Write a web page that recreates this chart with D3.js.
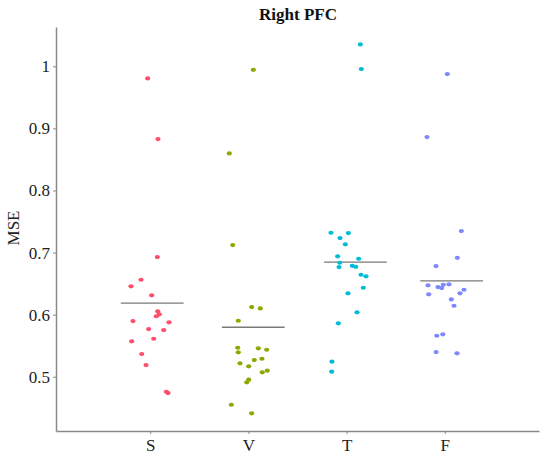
<!DOCTYPE html>
<html><head><meta charset="utf-8">
<script src="https://cdn.jsdelivr.net/npm/d3@7"></script>
<style>body{margin:0;background:#fff}svg{display:block}text{font-family:"Liberation Serif","DejaVu Serif",serif}</style>
</head><body><svg id="c" width="550" height="457"></svg>
<script>
const title = "Right PFC";
const yLabel = "MSE";
const categories = ["S", "V", "T", "F"];
const colors = ["#ff4d6a", "#8aaa00", "#00bcd6", "#7f87ff"];
const yTicks = [0.5, 0.6, 0.7, 0.8, 0.9, 1];
const yTickLabels = ["0.5", "0.6", "0.7", "0.8", "0.9", "1"];
// jittered x position (category units) and MSE value per subject
const sX = [0.974,1.079,1.072,0.906,0.804,1.015,1.076,1.092,1.062,0.824,1.191,0.984,1.137,1.035,0.811,0.913,0.957,1.164,1.181];
const sY = [0.9805,0.8828,0.6928,0.6562,0.6456,0.6311,0.6053,0.6005,0.5974,0.5897,0.5876,0.5768,0.5752,0.5612,0.5570,0.5366,0.5188,0.4758,0.4737];
const vX = [2.050,1.805,1.840,2.033,2.121,1.897,1.891,2.101,2.186,1.897,2.138,2.060,1.914,2.003,2.192,2.141,2.003,1.983,1.826,2.033];
const vY = [0.9944,0.8597,0.7121,0.6122,0.6101,0.5902,0.5467,0.5457,0.5435,0.5393,0.5290,0.5269,0.5216,0.5167,0.5097,0.5071,0.4952,0.4910,0.4549,0.4411];
const tX = [3.140,3.150,2.841,3.018,2.933,2.987,2.909,3.123,2.930,2.923,3.058,3.093,3.147,3.198,3.170,3.014,3.106,2.916,2.851,2.848];
const tY = [1.0353,0.9955,0.7319,0.7314,0.7234,0.7132,0.6939,0.6900,0.6836,0.6767,0.6787,0.6771,0.6643,0.6617,0.6433,0.6343,0.6037,0.5860,0.5242,0.5081];
const fX = [4.026,3.819,4.169,4.128,3.911,3.829,3.985,4.043,3.931,3.969,4.196,3.836,4.155,4.067,4.094,3.980,3.919,3.912,4.125];
const fY = [0.9874,0.8860,0.7346,0.6916,0.6783,0.6472,0.6481,0.6488,0.6444,0.6428,0.6401,0.6327,0.6343,0.6246,0.6143,0.5683,0.5660,0.5398,0.5377];
const means = [0.6184, 0.5797, 0.6845, 0.6543];
const meanCenters = [1.02, 2.05, 3.09, 4.07];
const meanHalfWidth = 0.32;

const groupsX = [sX, vX, tX, fX];
const groupsY = [sY, vY, tY, fY];

const svg = d3.select("#c");
const x = d3.scaleLinear().domain([0.04, 4.96]).range([56, 539]);
const y = d3.scaleLinear().domain([0.4126, 1.0633]).range([431, 27]);
const font = "Liberation Serif, DejaVu Serif, serif";
const axisColor = "#8a8a8a";

// axes
const yAxis = svg.append("g").attr("transform", "translate(56,0)")
  .call(d3.axisLeft(y).tickValues(yTicks).tickFormat((d,i)=>yTickLabels[i]).tickSize(3).tickSizeOuter(0));
const xAxis = svg.append("g").attr("transform", "translate(0,431)")
  .call(d3.axisBottom(x).tickValues([1,2,3,4]).tickFormat((d,i)=>categories[i]).tickSize(3).tickSizeOuter(0));
[yAxis, xAxis].forEach(g => {
  g.attr("font-family", font).attr("font-size", 17);
  g.select(".domain").attr("stroke", axisColor).attr("stroke-width", 1.5);
  g.selectAll(".tick line").attr("stroke", axisColor).attr("stroke-width", 1);
  g.selectAll("text").attr("fill", "#222");
});
yAxis.selectAll("text").attr("x", -6);
xAxis.selectAll("text").attr("y", 8);

// mean lines
svg.append("g").selectAll("line").data(means).join("line")
  .attr("x1", (d,i)=>x(meanCenters[i]-meanHalfWidth))
  .attr("x2", (d,i)=>x(meanCenters[i]+meanHalfWidth))
  .attr("y1", d=>y(d)).attr("y2", d=>y(d))
  .attr("stroke", "#7a7a7a").attr("stroke-width", 1.3);

// points
groupsY.forEach((ys, gi) => {
  svg.append("g").selectAll("ellipse").data(ys).join("ellipse")
    .attr("cx", (d,i)=>x(groupsX[gi][i]))
    .attr("cy", d=>y(d))
    .attr("rx", 2.6).attr("ry", 2.1)
    .attr("fill", colors[gi]);
});

// title and y label
svg.append("text").attr("x", 298).attr("y", 20).attr("text-anchor", "middle")
  .attr("font-family", font).attr("font-weight", "bold").attr("font-size", 17)
  .attr("fill", "#111").text(title);
svg.append("text").attr("transform", "translate(19,228) rotate(-90)").attr("text-anchor", "middle")
  .attr("font-family", font).attr("font-size", 17).attr("fill", "#222").text(yLabel);
</script></body></html>
